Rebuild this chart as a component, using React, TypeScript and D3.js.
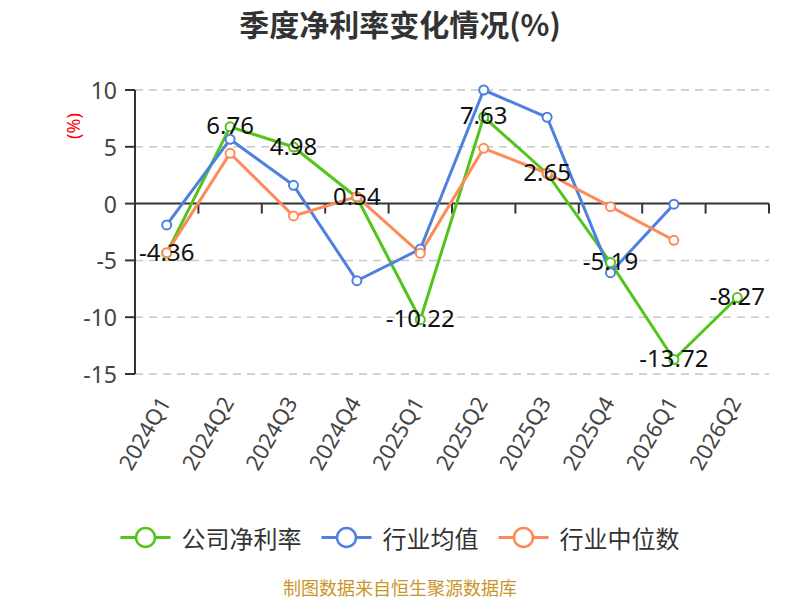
import React from "react";
import * as d3 from "d3";

const categories = ["2024Q1", "2024Q2", "2024Q3", "2024Q4", "2025Q1", "2025Q2", "2025Q3", "2025Q4", "2026Q1", "2026Q2"];
const companyNetMargin: (number | null)[] = [-4.36, 6.76, 4.98, 0.54, -10.22, 7.63, 2.65, -5.19, -13.72, -8.27];
const industryMean: (number | null)[] = [-1.88, 5.66, 1.61, -6.79, -4.0, 10.0, 7.6, -6.08, -0.05, null];
const industryMedian: (number | null)[] = [-4.32, 4.43, -1.09, 0.61, -4.38, 4.87, 2.67, -0.27, -3.23, null];
const yTicks = [10, 5, 0, -5, -10, -15];

const seriesNames = ["公司净利率", "行业均值", "行业中位数"];
const seriesColors = ["#52c41a", "#4e80e0", "#fd8a58"];

const W = 800;
const H = 600;
const left = 135;
const right = 769;
const top = 90;
const bottom = 374;
const fontNum = "'Noto Sans', 'Noto Sans CJK SC', sans-serif";
const fontCJK = "'Noto Sans CJK SC', 'Noto Sans', sans-serif";

export default function App() {
  const x = d3.scaleBand<string>().domain(categories).range([left, right]);
  const y = d3.scaleLinear().domain([-15, 10]).range([bottom, top]);
  const cx = (c: string) => (x(c) as number) + x.bandwidth() / 2;

  const allSeries = [companyNetMargin, industryMean, industryMedian];
  const line = d3
    .line<number | null>()
    .defined((d) => d !== null)
    .x((_, i) => cx(categories[i]))
    .y((d) => y(d as number));

  const boundaries = categories.map((c) => x(c) as number).concat([right]);

  // legend layout
  const legendFont = 24;
  const iconW = 50;
  const iconGap = 11;
  const itemGap = 20;
  const textW = (s: string) => s.length * legendFont;
  const totalW = seriesNames.reduce((a, s) => a + iconW + iconGap + textW(s), 0) + itemGap * (seriesNames.length - 1);
  let lx = W / 2 - totalW / 2;
  const legendItems = seriesNames.map((s, i) => {
    const item = { x: lx, name: s, color: seriesColors[i] };
    lx += iconW + iconGap + textW(s) + itemGap;
    return item;
  });
  const legendY = 537.5;

  return (
    <svg width={W} height={H} style={{ position: "absolute", left: 0, top: 0, background: "#fff" }}>
      <text x={400} y={23} textAnchor="middle" dominantBaseline="central" fontFamily={fontCJK} fontWeight="bold" fontSize={30} fill="#333">
        季度净利率变化情况(%)
      </text>

      {/* grid lines */}
      {yTicks.filter((t) => t !== 0).map((t) => (
        <line key={t} x1={left} x2={right} y1={y(t)} y2={y(t)} stroke="#c8c8c8" strokeWidth={1.5} strokeDasharray="8,6" />
      ))}

      {/* y axis */}
      <line x1={left} x2={left} y1={top} y2={bottom} stroke="#333" strokeWidth={2} />
      {yTicks.map((t) => (
        <g key={t}>
          <line x1={left - 10} x2={left} y1={y(t)} y2={y(t)} stroke="#333" strokeWidth={2} />
          <text x={left - 18} y={y(t)} textAnchor="end" dominantBaseline="central" fontFamily={fontNum} fontSize={23} fill="#444">
            {t}
          </text>
        </g>
      ))}
      <text transform={`translate(73,126) rotate(-90)`} textAnchor="middle" dominantBaseline="central" fontFamily={fontNum} fontSize={18} fill="#ff0000">
        (%)
      </text>

      {/* x axis at zero */}
      <line x1={left} x2={right} y1={y(0)} y2={y(0)} stroke="#333" strokeWidth={2} />
      {boundaries.map((b, i) => (
        <line key={i} x1={b} x2={b} y1={y(0)} y2={y(0) + 10} stroke="#333" strokeWidth={2} />
      ))}
      {categories.map((c) => (
        <text key={c} transform={`translate(${cx(c) - 3},${398}) rotate(-60)`} textAnchor="end" dominantBaseline="central" fontFamily={fontNum} fontSize={22} fill="#444">
          {c}
        </text>
      ))}

      {/* lines */}
      {allSeries.map((s, si) => (
        <path key={si} d={line(s) || ""} fill="none" stroke={seriesColors[si]} strokeWidth={3} strokeLinejoin="round" />
      ))}
      {allSeries.map((s, si) =>
        s.map((v, i) =>
          v === null ? null : (
            <circle key={`${si}-${i}`} cx={cx(categories[i])} cy={y(v)} r={4.5} fill="#fff" stroke={seriesColors[si]} strokeWidth={2} />
          )
        )
      )}

      {/* data labels for company */}
      {companyNetMargin.map((v, i) =>
        v === null ? null : (
          <text key={i} x={cx(categories[i])} y={y(v) - 2} textAnchor="middle" dominantBaseline="central" fontFamily={fontNum} fontSize={24} fill="#111">
            {v.toFixed(2)}
          </text>
        )
      )}

      {/* legend */}
      {legendItems.map((it) => (
        <g key={it.name}>
          <line x1={it.x} x2={it.x + iconW} y1={legendY} y2={legendY} stroke={it.color} strokeWidth={3} />
          <circle cx={it.x + iconW / 2} cy={legendY} r={9.5} fill="#fff" stroke={it.color} strokeWidth={2.5} />
          <text x={it.x + iconW + iconGap} y={legendY} dominantBaseline="central" fontFamily={fontCJK} fontSize={legendFont} fill="#333">
            {it.name}
          </text>
        </g>
      ))}

      <text x={400} y={587} textAnchor="middle" dominantBaseline="central" fontFamily={fontCJK} fontSize={18} fill="#c9952b">
        制图数据来自恒生聚源数据库
      </text>
    </svg>
  );
}
